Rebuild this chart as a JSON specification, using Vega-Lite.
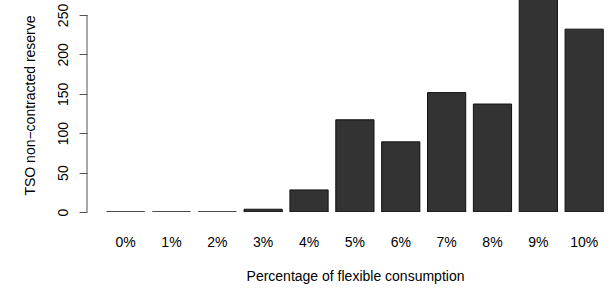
{
  "$schema": "https://vega.github.io/schema/vega-lite/v6.json",
  "width": 523,
  "height": 212,
  "autosize": {"type": "none"},
  "padding": {"left": 87, "top": 0, "right": 0, "bottom": 77},
  "background": "white",
  "config": {
    "font": "Liberation Sans",
    "view": {"stroke": null}
  },
  "datasets": {
    "bars": [
      {"pct": "0%", "reserve": 0},
      {"pct": "1%", "reserve": 0},
      {"pct": "2%", "reserve": 0},
      {"pct": "3%", "reserve": 3.5},
      {"pct": "4%", "reserve": 28},
      {"pct": "5%", "reserve": 117},
      {"pct": "6%", "reserve": 89},
      {"pct": "7%", "reserve": 151.5},
      {"pct": "8%", "reserve": 137},
      {"pct": "9%", "reserve": 290},
      {"pct": "10%", "reserve": 232}
    ],
    "axisline": [{"lo": 0, "hi": 250}]
  },
  "layer": [
    {
      "data": {"name": "bars"},
      "mark": {"type": "bar", "fill": "#333333", "stroke": "#111111", "strokeWidth": 1, "clip": true},
      "encoding": {
        "x": {
          "field": "pct",
          "type": "nominal",
          "sort": null,
          "scale": {"paddingInner": 0.1667, "paddingOuter": 0.2855, "align": 0.744},
          "axis": {
            "title": "Percentage of flexible consumption",
            "domain": false,
            "ticks": false,
            "tickSize": 0,
            "labelAngle": 0,
            "labelFontSize": 14,
            "labelColor": "#000000",
            "labelBaseline": "alphabetic",
            "labelPadding": 34,
            "titleFontSize": 14,
            "titleFontWeight": "normal",
            "titleColor": "#000000",
            "titleBaseline": "alphabetic",
            "titleAlign": "center",
            "titleX": 268,
            "titleY": 68
          }
        },
        "y": {
          "field": "reserve",
          "type": "quantitative",
          "scale": {"domain": [0, 269], "nice": false, "zero": true},
          "axis": {
            "title": "TSO non−contracted reserve",
            "values": [0, 50, 100, 150, 200, 250],
            "domain": false,
            "grid": false,
            "tickSize": 8,
            "tickColor": "#555555",
            "tickWidth": 1,
            "labelAngle": 270,
            "labelAlign": "center",
            "labelBaseline": "alphabetic",
            "labelPadding": 12,
            "labelFontSize": 14,
            "labelColor": "#000000",
            "titleFontSize": 14,
            "titleFontWeight": "normal",
            "titleColor": "#000000",
            "titleAngle": 270,
            "titleAlign": "center",
            "titleBaseline": "alphabetic",
            "titleX": -53,
            "titleY": 105
          }
        }
      }
    },
    {
      "data": {"name": "axisline"},
      "mark": {"type": "rule", "color": "#555555", "strokeWidth": 1},
      "encoding": {
        "x": {"value": 0},
        "y": {"field": "lo", "type": "quantitative"},
        "y2": {"field": "hi"}
      }
    }
  ]
}
